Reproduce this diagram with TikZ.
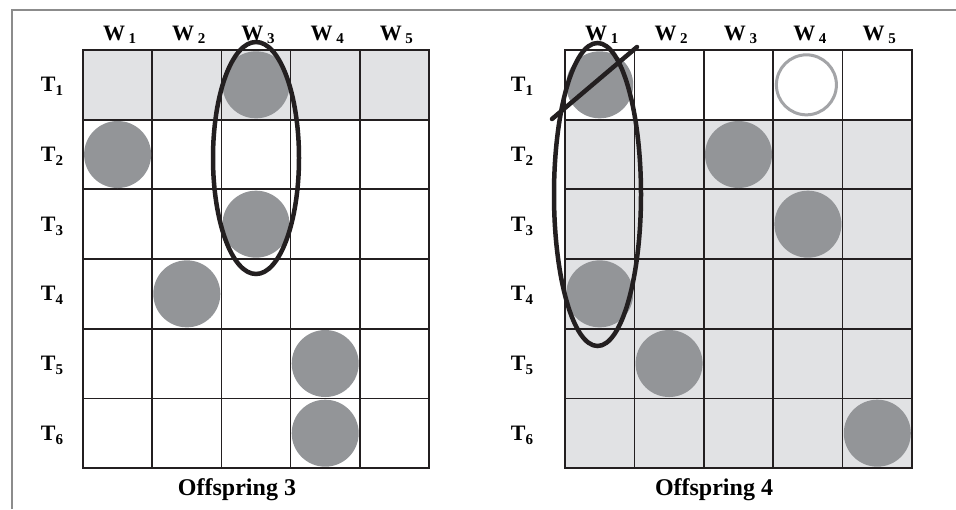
\documentclass[tikz,border=0pt]{standalone}
\usepackage{fontspec}
\setmainfont{Liberation Serif}
\definecolor{gridcol}{HTML}{231F20}
\definecolor{shadecol}{HTML}{E1E2E4}
\definecolor{dotcol}{HTML}{939598}
\definecolor{ocol}{HTML}{A3A4A7}
\definecolor{framecol}{HTML}{8C8C8C}
\newcommand{\lsub}[2]{\raisebox{-#2}{\fontsize{15}{15}\selectfont #1}}
\begin{document}
\begin{tikzpicture}[x=1pt,y=-1pt,
  gridline/.style={line width=1.7pt, draw=gridcol, line cap=rect},
  dot/.style={circle, fill=dotcol, inner sep=0pt, minimum size=67pt},
  odot/.style={circle, draw=ocol, line width=3pt, fill=white, inner sep=0pt, minimum size=60pt},
  ring/.style={draw=gridcol, line width=4.5pt},
  wlab/.style={font=\fontsize{22}{22}\selectfont\bfseries, inner sep=0pt, anchor=base},
  tlab/.style={font=\fontsize{22}{22}\selectfont\bfseries, inner sep=0pt, anchor=base},
  olab/.style={font=\fontsize{24}{24}\selectfont\bfseries, inner sep=0pt, anchor=base}]
\useasboundingbox (0,0) rectangle (956,509);
\fill[white] (0,0) rectangle (956,509);
\draw[framecol, line width=1.8pt] (12,509) -- (12,10) -- (956,10);

% ---------- left grid (Offspring 3)
\fill[shadecol] (83,50) rectangle (429,119.7);
\foreach \i in {0,...,5} \draw[gridline] ({83+\i*69.2},50) -- ({83+\i*69.2},468);
\foreach \j in {0,...,6} \draw[gridline] (83,{50+\j*69.67}) -- (429,{50+\j*69.67});

\node[dot] (L13) at ({83+2.5*69.2},{50+0.5*69.67}) {};
\node[dot] (L21) at ({83+0.5*69.2},{50+1.5*69.67}) {};
\node[dot] (L33) at ({83+2.5*69.2},{50+2.5*69.67}) {};
\node[dot] (L42) at ({83+1.5*69.2},{50+3.5*69.67}) {};
\node[dot] (L54) at ({83+3.5*69.2},{50+4.5*69.67}) {};
\node[dot] (L64) at ({83+3.5*69.2},{50+5.5*69.67}) {};

\draw[ring] (256,158) ellipse [x radius=43pt, y radius=116pt];

\foreach \i in {1,...,5}
  \node[wlab] (LW\i) at ({83+(\i-0.5)*69.2+2},40) {W\,\lsub{\i}{3pt}};
\foreach \j in {1,...,6}
  \node[tlab] (LT\j) at (52,{50+(\j-0.5)*69.67+7}) {T\lsub{\j}{4pt}};
\node[olab] (O3) at (237,495) {Offspring 3};

% ---------- right grid (Offspring 4)
\fill[shadecol] (565,119.7) rectangle (912,468);
\foreach \i in {0,...,5} \draw[gridline] ({565+\i*69.4},50) -- ({565+\i*69.4},468);
\foreach \j in {0,...,6} \draw[gridline] (565,{50+\j*69.67}) -- (912,{50+\j*69.67});

\node[dot] (R11) at ({565+0.5*69.4},{50+0.5*69.67}) {};
\node[odot] (R14) at ({565+3.5*69.4-1.5},{50+0.5*69.67}) {};
\node[dot] (R23) at ({565+2.5*69.4},{50+1.5*69.67}) {};
\node[dot] (R34) at ({565+3.5*69.4},{50+2.5*69.67}) {};
\node[dot] (R41) at ({565+0.5*69.4},{50+3.5*69.67}) {};
\node[dot] (R52) at ({565+1.5*69.4},{50+4.5*69.67}) {};
\node[dot] (R65) at ({565+4.5*69.4},{50+5.5*69.67}) {};

\draw[ring] (597.5,194.5) ellipse [x radius=43.5pt, y radius=151.5pt];
\draw[ring, line cap=round] (552,119) -- (637,47);

\foreach \i in {1,...,5}
  \node[wlab] (RW\i) at ({565+(\i-0.5)*69.4+2},40) {W\,\lsub{\i}{3pt}};
\foreach \j in {1,...,6}
  \node[tlab] (RT\j) at (522,{50+(\j-0.5)*69.67+7}) {T\lsub{\j}{4pt}};
\node[olab] (O4) at (714,495) {Offspring 4};
\end{tikzpicture}
\end{document}
